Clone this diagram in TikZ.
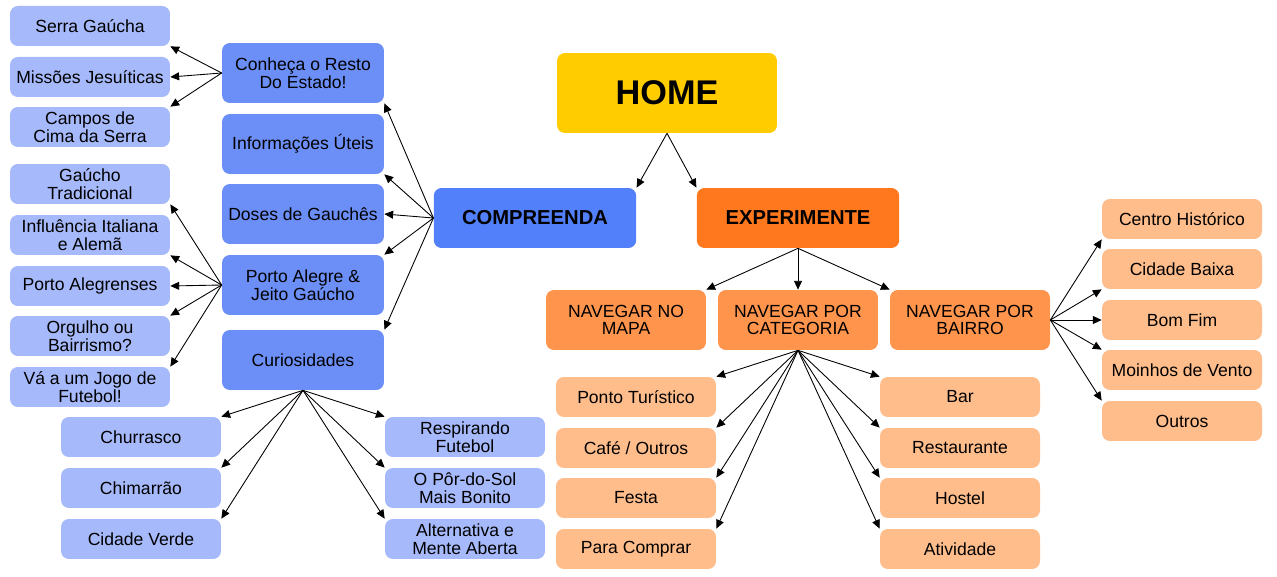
\documentclass[tikz,border=0pt]{standalone}
\usepackage{fontspec}
\setmainfont{Liberation Sans}
\usetikzlibrary{arrows.meta, positioning}
\definecolor{homeYellow}{RGB}{255, 204, 0}
\definecolor{compBlue}{RGB}{82, 128, 250}
\definecolor{midBlue}{RGB}{108, 143, 247}
\definecolor{leafBlue}{RGB}{166, 185, 250}
\definecolor{expOrange}{RGB}{255, 120, 30}
\definecolor{navOrange}{RGB}{255, 148, 77}
\definecolor{leafOrange}{RGB}{255, 189, 140}

\begin{document}
\begin{tikzpicture}[x=0.02cm, y=-0.02cm,
    box/.style={rectangle, rounded corners=4.5pt, inner sep=0pt, align=center,
                font=\fontsize{10}{10}\selectfont},
    leaf/.style={box, minimum width=3.2cm, minimum height=0.8cm},
    mid/.style={box, fill=midBlue, minimum width=3.24cm, minimum height=1.2cm},
    head/.style={box, minimum width=4.05cm, minimum height=1.2cm,
                 font=\fontsize{11.5}{12}\selectfont\bfseries},
    nav/.style={box, fill=navOrange, minimum width=3.2cm, minimum height=1.2cm},
    arrow/.style={-{Triangle[length=5pt, width=4.5pt]}, line width=0.5pt}
]
    \useasboundingbox (0,0) rectangle (1277,577);

    % Top
    \node[box, fill=homeYellow, minimum width=4.4cm, minimum height=1.6cm,
          font=\fontsize{19.5}{20}\selectfont\bfseries] (home) at (667,93) {HOME};
    \node[head, fill=compBlue] (comp) at (535,218) {COMPREENDA};
    \node[head, fill=expOrange] (exp) at (798,218) {EXPERIMENTE};

    % Compreenda
    \node[mid] (conheca) at (303,73) {Conheça o Resto\\Do Estado!};
    \node[mid] (info) at (303,144) {Informações Úteis};
    \node[mid] (doses) at (303,214) {Doses de Gauchês};
    \node[mid] (poa) at (303,285) {Porto Alegre \&\\Jeito Gaúcho};
    \node[mid] (curio) at (303,360) {Curiosidades};

    \node[leaf, fill=leafBlue] (serra) at (90,26) {Serra Gaúcha};
    \node[leaf, fill=leafBlue] (missoes) at (90,77) {Missões Jesuíticas};
    \node[leaf, fill=leafBlue] (campos) at (90,127) {Campos de\\Cima da Serra};
    \node[leaf, fill=leafBlue] (tradicional) at (90,184) {Gaúcho\\Tradicional};
    \node[leaf, fill=leafBlue] (influencia) at (90,235) {Influência Italiana\\e Alemã};
    \node[leaf, fill=leafBlue] (alegrenses) at (90,286) {Porto Alegrenses};
    \node[leaf, fill=leafBlue] (orgulho) at (90,336) {Orgulho ou\\Bairrismo?};
    \node[leaf, fill=leafBlue] (jogo) at (90,387) {Vá a um Jogo de\\Futebol!};

    \node[leaf, fill=leafBlue] (churrasco) at (141,437) {Churrasco};
    \node[leaf, fill=leafBlue] (chimarrao) at (141,488) {Chimarrão};
    \node[leaf, fill=leafBlue] (verde) at (141,539) {Cidade Verde};
    \node[leaf, fill=leafBlue] (respirando) at (465,437) {Respirando\\Futebol};
    \node[leaf, fill=leafBlue] (porsol) at (465,488) {O Pôr-do-Sol\\Mais Bonito};
    \node[leaf, fill=leafBlue] (alternativa) at (465,539) {Alternativa e\\Mente Aberta};

    % Experimente
    \node[nav] (mapa) at (626,320) {NAVEGAR NO\\MAPA};
    \node[nav] (categoria) at (798,320) {NAVEGAR POR\\CATEGORIA};
    \node[nav] (bairro) at (970,320) {NAVEGAR POR\\BAIRRO};

    \node[leaf, fill=leafOrange] (ponto) at (636,397) {Ponto Turístico};
    \node[leaf, fill=leafOrange] (cafe) at (636,448) {Café / Outros};
    \node[leaf, fill=leafOrange] (festa) at (636,498) {Festa};
    \node[leaf, fill=leafOrange] (comprar) at (636,549) {Para Comprar};
    \node[leaf, fill=leafOrange] (bar) at (960,397) {Bar};
    \node[leaf, fill=leafOrange] (restaurante) at (960,448) {Restaurante};
    \node[leaf, fill=leafOrange] (hostel) at (960,498) {Hostel};
    \node[leaf, fill=leafOrange] (atividade) at (960,549) {Atividade};

    \node[leaf, fill=leafOrange] (centro) at (1182,219) {Centro Histórico};
    \node[leaf, fill=leafOrange] (baixa) at (1182,269) {Cidade Baixa};
    \node[leaf, fill=leafOrange] (bomfim) at (1182,320) {Bom Fim};
    \node[leaf, fill=leafOrange] (moinhos) at (1182,370) {Moinhos de Vento};
    \node[leaf, fill=leafOrange] (outros) at (1182,421) {Outros};

    % Arrows
    \draw[arrow] (home.south) -- (comp.north east);
    \draw[arrow] (home.south) -- (exp.north west);

    \draw[arrow] (comp.west) -- (conheca.south east);
    \draw[arrow] (comp.west) -- (info.south east);
    \draw[arrow] (comp.west) -- (doses.east);
    \draw[arrow] (comp.west) -- (poa.north east);
    \draw[arrow] (comp.west) -- (curio.north east);

    \draw[arrow] (conheca.west) -- (serra.south east);
    \draw[arrow] (conheca.west) -- (missoes.east);
    \draw[arrow] (conheca.west) -- (campos.north east);

    \draw[arrow] (poa.west) -- (tradicional.south east);
    \draw[arrow] (poa.west) -- (influencia.south east);
    \draw[arrow] (poa.west) -- (alegrenses.east);
    \draw[arrow] (poa.west) -- (orgulho.north east);
    \draw[arrow] (poa.west) -- (jogo.north east);

    \draw[arrow] (curio.south) -- (churrasco.north east);
    \draw[arrow] (curio.south) -- (chimarrao.north east);
    \draw[arrow] (curio.south) -- (verde.north east);
    \draw[arrow] (curio.south) -- (respirando.north west);
    \draw[arrow] (curio.south) -- (porsol.north west);
    \draw[arrow] (curio.south) -- (alternativa.north west);

    \draw[arrow] (exp.south) -- (mapa.north east);
    \draw[arrow] (exp.south) -- (categoria.north);
    \draw[arrow] (exp.south) -- (bairro.north west);

    \draw[arrow] (categoria.south) -- (ponto.north east);
    \draw[arrow] (categoria.south) -- (cafe.north east);
    \draw[arrow] (categoria.south) -- (festa.north east);
    \draw[arrow] (categoria.south) -- (comprar.north east);
    \draw[arrow] (categoria.south) -- (bar.north west);
    \draw[arrow] (categoria.south) -- (restaurante.north west);
    \draw[arrow] (categoria.south) -- (hostel.north west);
    \draw[arrow] (categoria.south) -- (atividade.north west);

    \draw[arrow] (bairro.east) -- (centro.south west);
    \draw[arrow] (bairro.east) -- (baixa.south west);
    \draw[arrow] (bairro.east) -- (bomfim.west);
    \draw[arrow] (bairro.east) -- (moinhos.north west);
    \draw[arrow] (bairro.east) -- (outros.north west);
\end{tikzpicture}
\end{document}
